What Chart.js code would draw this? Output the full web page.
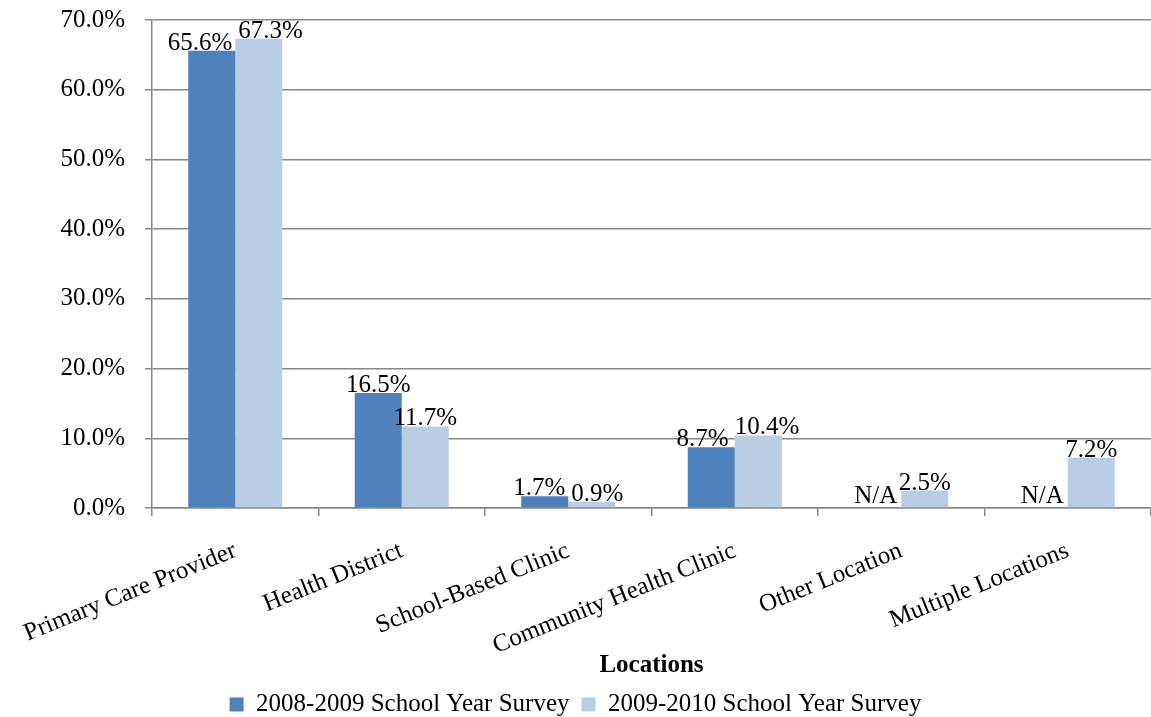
<!DOCTYPE html>
<html><head><meta charset="utf-8">
<script src="https://cdn.jsdelivr.net/npm/chart.js@4"></script>
<style>html,body{margin:0;padding:0;background:#fff;}#wrap{width:1151px;height:717px;}</style>
</head><body><div id="wrap"><canvas id="c" width="1151" height="717"></canvas></div>
<script>
const categories = ["Primary Care Provider","Health District","School-Based Clinic","Community Health Clinic","Other Location","Multiple Locations"];
const series2008 = [65.6, 16.5, 1.7, 8.7, null, null];
const series2009 = [67.3, 11.7, 0.9, 10.4, 2.5, 7.2];
const seriesNames = ["2008-2009 School Year Survey","2009-2010 School Year Survey"];
const yTicks = [0,10,20,30,40,50,60,70];
const FONT = "'Liberation Serif','Times New Roman',serif";
const FS = 25;

const labelPlugin = {
  id: 'barLabels',
  afterDatasetsDraw(chart) {
    const ctx = chart.ctx;
    const y0 = chart.scales.y.getPixelForValue(0);
    ctx.save();
    ctx.font = FS + "px " + FONT;
    ctx.fillStyle = "#000";
    ctx.textAlign = "center";
    ctx.textBaseline = "alphabetic";
    const m0 = chart.getDatasetMeta(0), m1 = chart.getDatasetMeta(1);
    const d0 = chart.data.datasets[0].data, d1 = chart.data.datasets[1].data;
    for (let i = 0; i < chart.data.labels.length; i++) {
      const b0 = m0.data[i], b1 = m1.data[i];
      let x0 = b0.x, x1 = b1.x;
      const y1 = b1.y - 1;
      const t1 = d1[i].toFixed(1) + "%";
      const w1 = ctx.measureText(t1).width;
      if (d0[i] === null || d0[i] === undefined) {
        const tn = "N/A";
        const wn = ctx.measureText(tn).width;
        ctx.fillText(tn, b1.x - b1.width / 2 - 4 - wn / 2, y0 - 5);
        ctx.fillText(t1, x1, y1);
        continue;
      }
      const y0b = b0.y - 1;
      const t0 = d0[i].toFixed(1) + "%";
      const w0 = ctx.measureText(t0).width;
      if (Math.abs(y0b - y1) < FS) {
        const need = (w0 + w1) / 2 + 6;
        const dist = x1 - x0;
        if (dist < need) {
          const s = (need - dist) / 2;
          x0 -= s; x1 += s;
        }
      }
      ctx.fillText(t0, x0, y0b);
      ctx.fillText(t1, x1, y1);
    }
    ctx.restore();
  }
};

const chart = new Chart(document.getElementById('c'), {
  type: 'bar',
  data: {
    labels: categories,
    datasets: [
      {label: seriesNames[0], data: series2008, backgroundColor: '#4F81BD', borderWidth: 0},
      {label: seriesNames[1], data: series2009, backgroundColor: '#B9CDE5', borderWidth: 0}
    ]
  },
  options: {
    responsive: false,
    animation: false,
    devicePixelRatio: 1,
    layout: {padding: {top: 20, right: 0, left: 0, bottom: -10}},
    datasets: {bar: {barPercentage: 1.0, categoryPercentage: 0.565}},
    scales: {
      x: {
        afterFit(axis) { axis.height = 172; axis.paddingLeft = 0; axis.paddingRight = 0; },
        grid: {display: true, drawOnChartArea: false, drawTicks: true, tickLength: 8, color: '#888', lineWidth: 1.5, offset: true},
        border: {display: true, color: '#888', width: 1.5},
        ticks: {font: {family: FONT, size: FS}, color: '#000', maxRotation: 22, minRotation: 22, padding: 20},
        title: {display: true, text: 'Locations', font: {family: FONT, size: FS, weight: 'bold'}, color: '#000', padding: {top: 0, bottom: -1}}
      },
      y: {
        min: 0, max: 70,
        afterFit(axis) { axis.width = 152; axis.paddingTop = 0; axis.paddingBottom = 0; },
        afterBuildTicks(axis) { axis.ticks = yTicks.map(v => ({value: v})); },
        grid: {color: '#888', lineWidth: 1.5, tickLength: 7},
        border: {display: true, color: '#888', width: 1.5},
        ticks: {font: {family: FONT, size: FS}, color: '#000', padding: 20, callback: v => v.toFixed(1) + '%'}
      }
    },
    plugins: {
      legend: {position: 'bottom', labels: {font: {family: FONT, size: FS}, color: '#000', boxWidth: 14, boxHeight: 14, padding: 12}},
      tooltip: {enabled: false}
    }
  },
  plugins: [labelPlugin]
});
</script></body></html>
